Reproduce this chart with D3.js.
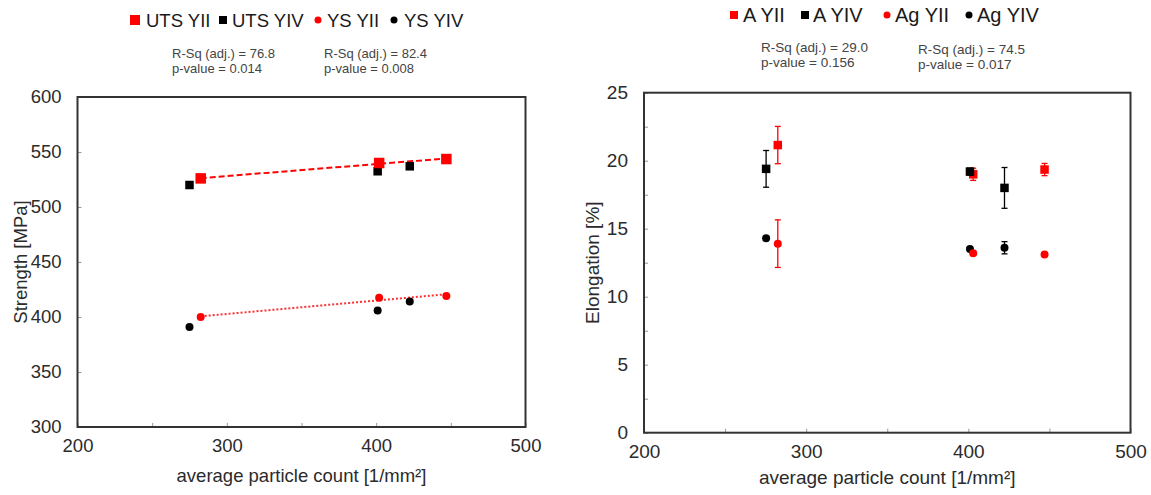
<!DOCTYPE html>
<html><head><meta charset="utf-8">
<script src="https://cdn.jsdelivr.net/npm/d3@7"></script>
<style>
body{margin:0;background:#fff;}
text{font-family:"Liberation Sans",Arial,sans-serif;}
</style></head>
<body><svg id="c" width="1151" height="495"></svg>
<script>
// ---------- Left chart data (Strength) ----------
const utsYII_x = [282.5, 402, 447];
const utsYII_y = [526, 540, 543.6];
const utsYII_err = [3.5, 1.5, 1.5];
const utsYIV_x = [275, 401, 422.5];
const utsYIV_y = [520, 532.5, 537];
const ysYII_x = [282.5, 402, 447];
const ysYII_y = [400, 417.5, 419];
const ysYIV_x = [275, 401, 422.5];
const ysYIV_y = [391, 406, 414];
const leftYTicks = [300, 350, 400, 450, 500, 550, 600];
const leftXTicks = [200, 300, 400, 500];
const leftXMinor = [200, 250, 300, 350, 400, 450, 500];
const leftLegend = ["UTS YII", "UTS YIV", "YS YII", "YS YIV"];
const leftStats = [["R-Sq (adj.) = 76.8", "p-value = 0.014"], ["R-Sq (adj.) = 82.4", "p-value = 0.008"]];

// ---------- Right chart data (Elongation) ----------
const aYII_x = [282.5, 403, 447];
const aYII_y = [21.15, 19.0, 19.35];
const aYII_err = [1.37, 0.45, 0.45];
const aYIV_x = [275.3, 401, 422.3];
const aYIV_y = [19.4, 19.2, 18.0];
const aYIV_err = [1.35, 0.25, 1.5];
const agYII_x = [282.5, 403, 447];
const agYII_y = [13.9, 13.2, 13.1];
const agYII_err = [1.75, 0.1, 0.1];
const agYIV_x = [275.3, 401, 422.3];
const agYIV_y = [14.3, 13.5, 13.6];
const agYIV_err = [0.1, 0.1, 0.45];
const rightYTicks = [0, 5, 10, 15, 20, 25];
const rightYMinor = [0, 2.5, 5, 7.5, 10, 12.5, 15, 17.5, 20, 22.5, 25];
const rightXTicks = [200, 300, 400, 500];
const rightXMinor = [200, 250, 300, 350, 400, 450, 500];
const rightLegend = ["A YII", "A YIV", "Ag YII", "Ag YIV"];
const rightStats = [["R-Sq (adj.) = 29.0", "p-value = 0.156"], ["R-Sq (adj.) = 74.5", "p-value = 0.017"]];

const svg = d3.select("#c");
const TXT = "#2b2b2b";

function zip(xs, ys, es) { return xs.map((x, i) => ({x, y: ys[i], e: es ? es[i] : 0})); }

function frame(g, x, y, xMinor, xLab, yMinor, yLab, fs, xTitle, yTitle, titleX, titleY) {
  const [x0, x1] = x.range(), [y0, y1] = y.range();
  g.append("g").attr("transform", `translate(0,${y0})`)
    .call(d3.axisBottom(x).tickValues(xMinor).tickSize(-4).tickFormat(""))
    .call(s => s.select(".domain").remove())
    .selectAll("line").attr("stroke", "#999");
  g.append("g").attr("transform", `translate(${x0},0)`)
    .call(d3.axisLeft(y).tickValues(yMinor).tickSize(-4).tickFormat(""))
    .call(s => s.select(".domain").remove())
    .selectAll("line").attr("stroke", "#999");
  const xa = g.append("g").attr("transform", `translate(0,${y0})`)
    .call(d3.axisBottom(x).tickValues(xLab).tickSize(0).tickPadding(12));
  xa.select(".domain").remove();
  xa.selectAll("text").attr("font-size", fs).attr("fill", TXT).attr("font-family", "Liberation Sans, Arial");
  const ya = g.append("g").attr("transform", `translate(${x0},0)`)
    .call(d3.axisLeft(y).tickValues(yLab).tickSize(0).tickPadding(16));
  ya.select(".domain").remove();
  ya.selectAll("text").attr("font-size", fs).attr("fill", TXT).attr("font-family", "Liberation Sans, Arial");
  g.append("rect").attr("x", x0).attr("y", y1).attr("width", x1 - x0).attr("height", y0 - y1)
    .attr("fill", "none").attr("stroke", "#333").attr("stroke-width", 2);
  g.append("text").attr("x", (x0 + x1) / 2).attr("y", titleY).attr("text-anchor", "middle")
    .attr("font-size", fs).attr("fill", TXT).text(xTitle);
  g.append("text").attr("transform", `translate(${titleX},${(y0 + y1) / 2}) rotate(-90)`)
    .attr("text-anchor", "middle").attr("dy", "0.35em")
    .attr("font-size", fs).attr("fill", TXT).text(yTitle);
}

function errBars(g, data, x, y, color) {
  const sel = g.append("g").attr("stroke", color).attr("stroke-width", 1.3);
  data.filter(d => d.e > 0).forEach(d => {
    sel.append("line").attr("x1", x(d.x)).attr("x2", x(d.x)).attr("y1", y(d.y - d.e)).attr("y2", y(d.y + d.e));
    sel.append("line").attr("x1", x(d.x) - 3).attr("x2", x(d.x) + 3).attr("y1", y(d.y - d.e)).attr("y2", y(d.y - d.e));
    sel.append("line").attr("x1", x(d.x) - 3).attr("x2", x(d.x) + 3).attr("y1", y(d.y + d.e)).attr("y2", y(d.y + d.e));
  });
}
function squares(g, data, x, y, color, s) {
  g.append("g").selectAll("rect").data(data).join("rect")
    .attr("x", d => x(d.x) - s / 2).attr("y", d => y(d.y) - s / 2)
    .attr("width", s).attr("height", s).attr("fill", color);
}
function dots(g, data, x, y, color, r) {
  g.append("g").selectAll("circle").data(data).join("circle")
    .attr("cx", d => x(d.x)).attr("cy", d => y(d.y)).attr("r", r).attr("fill", color);
}
function trend(g, data, x, y, color, dash) {
  const mx = d3.mean(data, d => d.x), my = d3.mean(data, d => d.y);
  const b = d3.sum(data, d => (d.x - mx) * (d.y - my)) / d3.sum(data, d => (d.x - mx) ** 2);
  const a = my - b * mx;
  const xs = d3.extent(data, d => d.x);
  g.append("line").attr("x1", x(xs[0])).attr("x2", x(xs[1]))
    .attr("y1", y(a + b * xs[0])).attr("y2", y(a + b * xs[1]))
    .attr("stroke", color).attr("stroke-width", 2).attr("stroke-dasharray", dash);
}
function legend(g, items, labels, fs, ty) {
  items.forEach((it, i) => {
    if (it.shape === "sq") g.append("rect").attr("x", it.mx - it.s / 2).attr("y", ty - it.s / 2).attr("width", it.s).attr("height", it.s).attr("fill", it.c);
    else g.append("circle").attr("cx", it.mx).attr("cy", ty).attr("r", it.s / 2).attr("fill", it.c);
    g.append("text").attr("x", it.tx).attr("y", ty).attr("dy", "0.36em").attr("font-size", fs).attr("fill", "#1a1a1a").text(labels[i]);
  });
}
function stats(g, items, pos, fs) {
  items.forEach((lines, i) => {
    lines.forEach((t, j) => {
      g.append("text").attr("x", pos[i][0]).attr("y", pos[i][1] + j * 15.5).attr("dy", "0.35em")
        .attr("font-size", fs).attr("fill", "#444").text(t);
    });
  });
}

// ---------- LEFT ----------
{
  const g = svg.append("g");
  const x = d3.scaleLinear().domain([200, 500]).range([77.5, 525.5]);
  const y = d3.scaleLinear().domain([300, 600]).range([427, 97]);
  frame(g, x, y, leftXMinor, leftXTicks, leftYTicks, leftYTicks, 18.5,
    "average particle count [1/mm²]", "Strength [MPa]", 21, 482);
  const uYII = zip(utsYII_x, utsYII_y, utsYII_err), uYIV = zip(utsYIV_x, utsYIV_y);
  const sYII = zip(ysYII_x, ysYII_y), sYIV = zip(ysYIV_x, ysYIV_y);
  trend(g, uYII, x, y, "#ff0000", "6,3");
  trend(g, sYII, x, y, "#ff3030", "2,2");
  squares(g, uYIV, x, y, "#000", 8.5);
  errBars(g, uYII, x, y, "#ff0000");
  squares(g, uYII, x, y, "#ff0000", 10.5);
  dots(g, sYIV, x, y, "#000", 4);
  dots(g, sYII, x, y, "#ff0000", 4);
  legend(g, [
    {shape: "sq", c: "#ff0000", s: 10, mx: 135, tx: 146},
    {shape: "sq", c: "#000", s: 8, mx: 223, tx: 232},
    {shape: "ci", c: "#ff0000", s: 7, mx: 318, tx: 327},
    {shape: "ci", c: "#000", s: 7, mx: 394, tx: 404}
  ], leftLegend, 18.5, 20);
  stats(g, leftStats, [[172, 53], [324, 53]], 13);
}

// ---------- RIGHT ----------
{
  const g = svg.append("g");
  const x = d3.scaleLinear().domain([200, 500]).range([644, 1130.5]);
  const y = d3.scaleLinear().domain([0, 25]).range([432.7, 92.7]);
  frame(g, x, y, rightXMinor, rightXTicks, rightYMinor, rightYTicks, 19,
    "average particle count [1/mm²]", "Elongation [%]", 592, 484);
  const A2 = zip(aYII_x, aYII_y, aYII_err), A4 = zip(aYIV_x, aYIV_y, aYIV_err);
  const G2 = zip(agYII_x, agYII_y, agYII_err), G4 = zip(agYIV_x, agYIV_y, agYIV_err);
  errBars(g, A2, x, y, "#ff0000");
  squares(g, A2, x, y, "#ff0000", 8.5);
  errBars(g, A4, x, y, "#000");
  squares(g, A4, x, y, "#000", 8.5);
  errBars(g, G4, x, y, "#000");
  dots(g, G4, x, y, "#000", 4);
  errBars(g, G2, x, y, "#ff0000");
  dots(g, G2, x, y, "#ff0000", 4);
  legend(g, [
    {shape: "sq", c: "#ff0000", s: 8, mx: 734, tx: 743},
    {shape: "sq", c: "#000", s: 8, mx: 805, tx: 813},
    {shape: "ci", c: "#ff0000", s: 7, mx: 887, tx: 895},
    {shape: "ci", c: "#000", s: 7, mx: 969, tx: 977}
  ], rightLegend, 20, 15);
  stats(g, rightStats, [[761, 47], [918, 49]], 13.5);
}
</script></body></html>
